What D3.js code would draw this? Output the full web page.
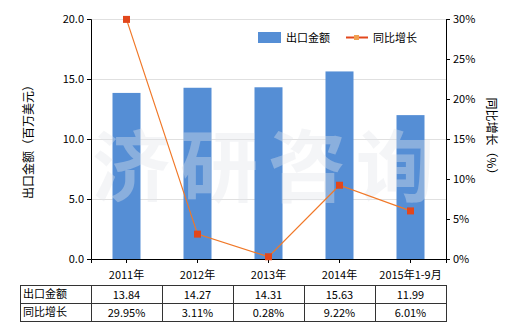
<!DOCTYPE html>
<html>
<head>
<meta charset="utf-8">
<script src="https://cdn.jsdelivr.net/npm/d3@7"></script>
<style>
  body { margin: 0; background: #fff; }
  svg text { font-family: "Noto Sans CJK SC", "Noto Sans", sans-serif; font-size: 11px; fill: #000; }
</style>
</head>
<body>
<svg id="chart" width="520" height="330"></svg>
<script>
var categories = ["2011年", "2012年", "2013年", "2014年", "2015年1-9月"];
var exportValues = [13.84, 14.27, 14.31, 15.63, 11.99];
var growthValues = [29.95, 3.11, 0.28, 9.22, 6.01];
var leftTicks = [0, 5, 10, 15, 20];
var rightTicks = [0, 5, 10, 15, 20, 25, 30];
var seriesNames = ["出口金额", "同比增长"];

var svg = d3.select("#chart");

var plotLeft = 91, plotRight = 446, plotTop = 19, plotBottom = 259;

var x = d3.scaleBand().domain(categories).range([plotLeft, plotRight]);
var yL = d3.scaleLinear().domain([0, 20]).range([plotBottom, plotTop]);
var yR = d3.scaleLinear().domain([0, 30]).range([plotBottom, plotTop]);

// grid
svg.append("g").selectAll("line")
    .data(leftTicks.slice(1))
    .enter().append("line")
    .attr("x1", plotLeft).attr("x2", plotRight)
    .attr("y1", function (d) { return Math.round(yL(d)) + 0.5; })
    .attr("y2", function (d) { return Math.round(yL(d)) + 0.5; })
    .attr("stroke", "#e0e0e0");

// bars
svg.append("g").selectAll("rect")
    .data(exportValues)
    .enter().append("rect")
    .attr("x", function (d, i) { return x(categories[i]) + x.bandwidth() / 2 - 14; })
    .attr("width", 28)
    .attr("y", function (d) { return yL(d); })
    .attr("height", function (d) { return plotBottom - yL(d); })
    .attr("fill", "#558ed5");

// watermark
svg.append("text")
    .attr("x", 268).attr("y", 196)
    .attr("text-anchor", "middle")
    .style("font-size", "78px")
    .style("font-weight", "bold")
    .style("letter-spacing", "10px")
    .style("fill", "rgba(225,228,235,0.38)")
    .text("济研咨询");

// axes
var axL = svg.append("g")
    .attr("transform", "translate(" + plotLeft + ",0)")
    .call(d3.axisLeft(yL).tickValues(leftTicks).tickSize(4).tickFormat(d3.format(".1f")));
var axR = svg.append("g")
    .attr("transform", "translate(" + plotRight + ",0)")
    .call(d3.axisRight(yR).tickValues(rightTicks).tickSize(4).tickFormat(function (d) { return d + "%"; }));
var axB = svg.append("g")
    .attr("transform", "translate(0," + plotBottom + ")")
    .call(d3.axisBottom(x).tickSize(4).tickPadding(8));
[axL, axR, axB].forEach(function (a) {
    a.select(".domain").attr("stroke", "#000");
    a.selectAll(".tick line").attr("stroke", "#000");
    a.selectAll("text").style("font-size", "11px").attr("fill", "#000");
});

// line
var line = d3.line()
    .x(function (d, i) { return x(categories[i]) + x.bandwidth() / 2; })
    .y(function (d) { return yR(d); });
svg.append("path")
    .datum(growthValues)
    .attr("d", line)
    .attr("fill", "none")
    .attr("stroke", "#f07828")
    .attr("stroke-width", 1.2);
svg.append("g").selectAll("rect")
    .data(growthValues)
    .enter().append("rect")
    .attr("x", function (d, i) { return x(categories[i]) + x.bandwidth() / 2 - 3.5; })
    .attr("y", function (d) { return yR(d) - 3.5; })
    .attr("width", 7).attr("height", 7)
    .attr("fill", "#e2471c");

// axis titles
svg.append("text")
    .attr("transform", "translate(33,139) rotate(-90)")
    .attr("text-anchor", "middle")
    .style("font-size", "12px")
    .text("出口金额（百万美元）");
svg.append("text")
    .attr("transform", "translate(487,139) rotate(90)")
    .attr("text-anchor", "middle")
    .style("font-size", "12px")
    .text("同比增长（%）");

// legend
var lg = svg.append("g");
lg.append("rect").attr("x", 258).attr("y", 32).attr("width", 23).attr("height", 11).attr("fill", "#558ed5");
lg.append("text").attr("x", 286).attr("y", 42).text(seriesNames[0]);
lg.append("line").attr("x1", 346).attr("x2", 368).attr("y1", 37.5).attr("y2", 37.5)
    .attr("stroke", "#e2471c").attr("stroke-width", 2);
lg.append("rect").attr("x", 354).attr("y", 35).attr("width", 5).attr("height", 5).attr("fill", "#f0a050");
lg.append("text").attr("x", 373).attr("y", 42).text(seriesNames[1]);

// data table
var tTop = 285, rowH = 18, tLeft = 20;
var rows = [exportValues.map(function (d) { return d.toFixed(2); }),
            growthValues.map(function (d) { return d.toFixed(2) + "%"; })];
var tbl = svg.append("g");
tbl.append("rect")
    .attr("x", tLeft + 0.5).attr("y", tTop + 0.5)
    .attr("width", plotRight - tLeft).attr("height", rowH * 2)
    .attr("fill", "none").attr("stroke", "#333");
tbl.append("line")
    .attr("x1", tLeft).attr("x2", plotRight)
    .attr("y1", tTop + rowH + 0.5).attr("y2", tTop + rowH + 0.5)
    .attr("stroke", "#333");
tbl.selectAll("line.col")
    .data(categories)
    .enter().append("line")
    .attr("class", "col")
    .attr("x1", function (d) { return Math.round(x(d)) + 0.5; })
    .attr("x2", function (d) { return Math.round(x(d)) + 0.5; })
    .attr("y1", tTop).attr("y2", tTop + rowH * 2)
    .attr("stroke", "#333");
rows.forEach(function (r, ri) {
    tbl.append("text")
        .attr("x", tLeft + 3).attr("y", tTop + rowH * ri + 13)
        .text(seriesNames[ri]);
    tbl.selectAll("text.v" + ri)
        .data(r)
        .enter().append("text")
        .attr("x", function (d, i) { return x(categories[i]) + x.bandwidth() / 2; })
        .attr("y", tTop + rowH * ri + 14)
        .attr("text-anchor", "middle")
        .text(function (d) { return d; });
});
</script>
</body>
</html>
